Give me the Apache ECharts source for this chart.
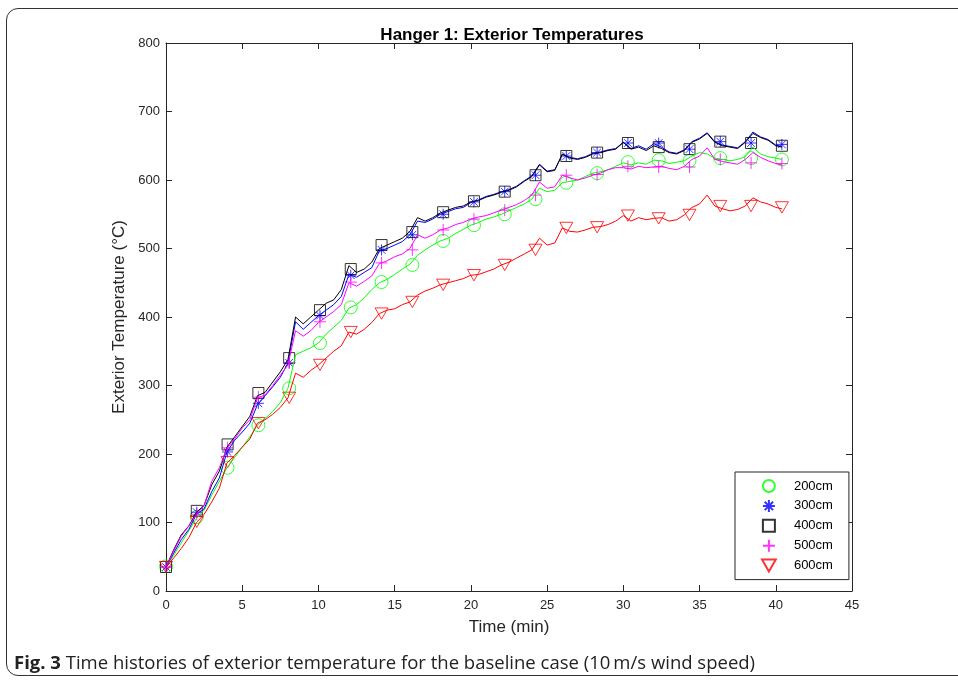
<!DOCTYPE html>
<html>
<head>
<meta charset="utf-8">
<title>Hanger 1: Exterior Temperatures</title>
<script src="https://cdn.jsdelivr.net/npm/echarts@6/dist/echarts.min.js"></script>
<style>
  html, body { margin: 0; padding: 0; background: #fff; overflow: hidden; }
  #frame {
    position: absolute; left: 6px; top: 8px; width: 990px; height: 668px;
    border: 1.5px solid #333; border-radius: 12px; box-sizing: border-box;
  }
  #chart { position: absolute; left: 0; top: 0; width: 958px; height: 683px; }
  #caption {
    position: absolute; left: 14px; top: 649px; white-space: nowrap;
    font-family: 'Open Sans', sans-serif; font-size: 18.5px; color: #222;
  }
  #caption b { font-weight: 700; }
</style>
</head>
<body>
<div id="frame"></div>
<div id="chart"></div>
<div id="caption"><b>Fig. 3</b> Time histories of exterior temperature for the baseline case (10&#8201;m/s wind speed)</div>
<script>
// time (min) of each line sample
var times = [0, 0.5, 1, 1.5, 2, 2.5, 3, 3.5, 4, 4.5, 5, 5.5, 6, 6.5, 7, 7.5, 8, 8.5, 9, 9.5,
  10, 10.5, 11, 11.5, 12, 12.5, 13, 13.5, 14, 14.5, 15, 15.5, 16, 16.5, 17, 17.5, 18, 18.5, 19, 19.5,
  20, 20.5, 21, 21.5, 22, 22.5, 23, 23.5, 24, 24.5, 25, 25.5, 26, 26.5, 27, 27.5, 28, 28.5, 29, 29.5,
  30, 30.5, 31, 31.5, 32, 32.5, 33, 33.5, 34, 34.5, 35, 35.5, 36, 36.5, 37, 37.5, 38, 38.5, 39, 39.5,
  40, 40.4]

var t200 = [35, 52, 70, 88, 106, 118, 140, 160, 180, 195, 210, 225, 242, 252, 262, 275, 296, 345, 350, 355,
  362, 375, 385, 395, 413, 418, 428, 440, 450, 455, 462, 470, 477, 490, 498, 505, 511, 515, 522, 528,
  534, 538, 543, 546, 550, 555, 560, 565, 572, 588, 583, 585, 596, 598, 600, 605, 610, 612, 615, 620,
  625, 622, 625, 623, 629, 628, 624, 626, 628, 635, 640, 638, 632, 630, 628, 630, 634, 648, 638, 634,
  632, 630]
var t300 = [35, 55, 75, 90, 112, 120, 145, 165, 203, 220, 232, 245, 272, 285, 298, 312, 333, 393, 382, 392,
  402, 410, 418, 430, 462, 458, 465, 472, 497, 500, 505, 510, 520, 540, 538, 543, 550, 554, 558, 560,
  567, 571, 576, 579, 583, 586, 591, 599, 606, 623, 613, 615, 637, 633, 631, 634, 639, 641, 644, 646,
  655, 646, 650, 645, 653, 648, 641, 639, 644, 656, 661, 669, 656, 651, 649, 647, 656, 670, 663, 659,
  651, 649]
var t400 = [35, 60, 82, 95, 115, 125, 155, 175, 210, 225, 240, 255, 285, 290, 305, 320, 338, 400, 390, 400,
  410, 420, 425, 440, 475, 465, 470, 480, 500, 505, 510, 515, 525, 545, 540, 545, 552, 556, 560, 562,
  568, 570, 575, 578, 582, 585, 590, 598, 605, 622, 612, 614, 638, 632, 630, 633, 638, 640, 643, 645,
  655, 645, 648, 643, 650, 646, 640, 638, 643, 655, 660, 668, 655, 650, 648, 646, 655, 668, 662, 658,
  650, 648]
var t500 = [35, 58, 80, 95, 112, 125, 160, 180, 208, 222, 238, 250, 282, 286, 300, 315, 330, 380, 372, 380,
  392, 400, 408, 418, 450, 445, 452, 460, 478, 482, 488, 492, 500, 520, 515, 520, 527, 530, 535, 538,
  543, 546, 548, 552, 556, 560, 564, 570, 578, 597, 588, 590, 607, 603, 600, 603, 607, 610, 615, 618,
  618, 616, 620, 618, 619, 620, 617, 615, 620, 630, 635, 647, 630, 627, 625, 623, 630, 640, 633, 628,
  624, 622]
var t600 = [35, 48, 62, 78, 100, 112, 130, 150, 187, 198, 210, 222, 245, 250, 258, 268, 282, 318, 312, 322,
  330, 340, 350, 358, 378, 375, 382, 392, 405, 410, 412, 418, 422, 432, 438, 442, 447, 450, 453, 456,
  461, 462, 466, 470, 476, 480, 486, 492, 498, 515, 505, 508, 530, 525, 524, 527, 531, 532, 535, 540,
  548, 540, 545, 542, 544, 545, 540, 542, 549, 560, 565, 578, 562, 558, 555, 557, 562, 574, 568, 565,
  560, 558]

// marker positions (every 2 min of record)
var markTimes = [0, 2.02, 4.04, 6.06, 8.08, 10.1, 12.12, 14.14, 16.16, 18.18, 20.2, 22.22, 24.24,
  26.26, 28.28, 30.3, 32.32, 34.34, 36.36, 38.38, 40.4]
var m200 = [36, 108, 180, 242, 296, 362, 414, 451, 476, 511, 534, 550, 572, 596, 610, 626, 629, 628, 632, 632, 630]
var m300 = [35, 115, 203, 274, 333, 402, 461, 498, 520, 550, 568, 583, 607, 635, 640, 654, 654, 645, 656, 654, 652]
var m400 = [35, 117, 214, 289, 340, 410, 470, 505, 524, 553, 569, 583, 607, 635, 640, 654, 648, 645, 656, 654, 650]
var m500 = [35, 112, 209, 283, 333, 393, 451, 479, 498, 527, 543, 556, 578, 607, 608, 620, 619, 619, 630, 625, 624]
var m600 = [35, 101, 188, 245, 282, 330, 378, 405, 422, 447, 461, 476, 498, 530, 531, 548, 544, 549, 562, 562, 560]

var names = ['200cm', '300cm', '400cm', '500cm', '600cm']
var lineData = [t200, t300, t400, t500, t600]
var markData = [m200, m300, m400, m500, m600]
var colors = ['#00ff00', '#0000ff', '#000000', '#ff00ff', '#ff0000']
var symbols = [
  'circle',
  'path://M5,0L5,10M0,5L10,5M1.5,1.5L8.5,8.5M1.5,8.5L8.5,1.5',
  'path://M0,0L10,0L10,10L0,10Z',
  'path://M5,0L5,10M0,5L10,5',
  'path://M0,0L10,0L5,8.7Z'
]
var sizes = [13, 11, 11, 12, 13]

var font = 'Liberation Sans, Arial, Helvetica, sans-serif'
var axisColor = '#262626'

function pairs (xs, ys) {
  return ys.map(function (v, i) { return [xs[i], v] })
}

var series = []
names.forEach(function (n, i) {
  series.push({
    name: n + ' line',
    type: 'line',
    data: pairs(times, lineData[i]),
    showSymbol: false,
    lineStyle: { color: colors[i], width: 1 },
    silent: true
  })
  series.push({
    name: n,
    type: 'scatter',
    data: pairs(markTimes, markData[i]),
    symbol: symbols[i],
    symbolSize: sizes[i],
    symbolKeepAspect: true,
    itemStyle: { color: 'rgba(0,0,0,0)', borderColor: colors[i], borderWidth: 1 },
    silent: true
  })
})

function tickAxis (opts) {
  return Object.assign({
    type: 'value',
    axisLine: { show: true, onZero: false, lineStyle: { color: axisColor, width: 1 } },
    axisTick: { show: true, inside: true, length: 6, lineStyle: { color: axisColor } },
    splitLine: { show: false },
    axisLabel: { show: false }
  }, opts)
}

var chart = echarts.init(document.getElementById('chart'))
chart.setOption({
  animation: false,
  backgroundColor: 'transparent',
  title: {
    text: 'Hanger 1: Exterior Temperatures',
    left: 507,
    textAlign: 'center',
    top: 22,
    textStyle: { fontFamily: font, fontSize: 17, fontWeight: 'bold', color: '#000' }
  },
  grid: { left: 166, right: 106, top: 43, bottom: 92 },
  legend: {
    data: names,
    orient: 'vertical',
    left: 735,
    top: 472,
    itemWidth: 40,
    itemHeight: 12,
    itemGap: 5.9,
    padding: [7, 16, 7, 26],
    borderColor: axisColor,
    borderWidth: 1,
    backgroundColor: '#fff',
    textStyle: { fontFamily: font, fontSize: 13, color: '#000' },
    selectedMode: false
  },
  xAxis: [
    tickAxis({
      min: 0, max: 45, interval: 5,
      name: 'Time (min)',
      nameLocation: 'middle',
      nameGap: 28,
      nameTextStyle: { fontFamily: font, fontSize: 17, color: axisColor },
      axisLabel: { show: true, margin: 8, fontFamily: font, fontSize: 13, color: axisColor }
    }),
    tickAxis({ min: 0, max: 45, interval: 5, position: 'top' })
  ],
  yAxis: [
    tickAxis({
      min: 0, max: 800, interval: 100,
      name: 'Exterior Temperature (°C)',
      nameLocation: 'middle',
      nameGap: 37,
      nameTextStyle: { fontFamily: font, fontSize: 17, color: axisColor },
      axisLabel: { show: true, margin: 6, fontFamily: font, fontSize: 13, color: axisColor }
    }),
    tickAxis({ min: 0, max: 800, interval: 100, position: 'right' })
  ],
  series: series
})
</script>
</body>
</html>
